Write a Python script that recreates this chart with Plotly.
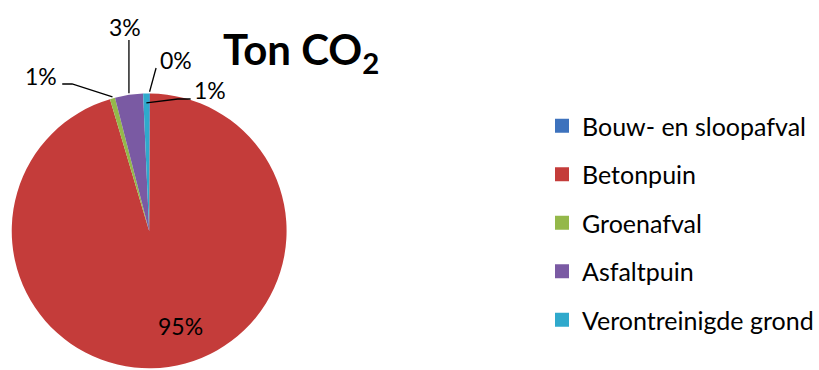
import math
import plotly.graph_objects as go

# ---- data ----
categories = ["Bouw- en sloopafval", "Betonpuin", "Groenafval", "Asfaltpuin", "Verontreinigde grond"]
values = [0.1, 95.3, 0.6, 3.3, 0.7]
colors = ["#3d72bd", "#c43c3a", "#94b84a", "#7a5aa3", "#2fa9cc"]
title_text = "Ton CO<sub>2</sub>"

W, H = 819, 370
FONT = "Lato"

# pie geometry (domain in paper coords)
dom_y = [0.0, 0.752]
R = (dom_y[1] - dom_y[0]) * H / 2
cx_px = 151.0
cy_px = H - R
dom_x = [(cx_px - R) / W, (cx_px + R) / W]

def px2paper(x, y):
    return x / W, 1 - y / H

total = sum(values)
mids = []
acc = 0.0
for v in values:
    mids.append((acc + v / 2) / total * 360.0)
    acc += v

def polar(ang, frac):
    a = math.radians(ang)
    return cx_px + R * frac * math.sin(a), cy_px - R * frac * math.cos(a)

fig = go.Figure()
fig.add_trace(go.Pie(
    labels=categories, values=values, sort=False, direction="clockwise", rotation=0,
    marker=dict(colors=colors, line=dict(width=0)),
    textinfo="none",
    domain=dict(x=dom_x, y=dom_y), showlegend=False, hoverinfo="skip",
))

# legend via dummy traces
for i, (c, col) in enumerate(zip(categories, colors)):
    fig.add_trace(go.Scatter(x=[None], y=[None], mode="markers", name=c,
                             marker=dict(symbol="square", size=14, color=col),
                             legendgroup=f"g{i}", showlegend=True))

# labels with leader lines: (index, label center px, elbow points px, head radius frac)
label_specs = [
    (0, (178, 60), [(158, 68)], 1.0),
    (4, (213, 90), [(193, 99), (180, 99)], 0.92),
    (3, (127, 27), [("hx", 40)], 1.0),
    (2, (42, 76), [(63, 84), (73, 84)], 1.0),
    (1, (183, 326), [], None),
]
annotations = []
shapes = []
for idx, (lx, ly), elbows, frac in label_specs:
    pct = round(values[idx] / total * 100)
    if frac is not None:
        hx, hy = polar(mids[idx], frac)
        pts = []
        for ex, ey in elbows:
            pts.append((hx if ex == "hx" else ex, ey))
        pts.append((hx, hy))
        path = ""
        for j, (x, y) in enumerate(pts):
            px, py = px2paper(x, y)
            path += ("M" if j == 0 else " L") + f" {px:.5f},{py:.5f}"
        shapes.append(dict(type="path", path=path, xref="paper", yref="paper",
                           line=dict(color="black", width=1.3)))
    ax_, ay_ = px2paper(lx, ly)
    annotations.append(dict(x=ax_, y=ay_, xref="paper", yref="paper", text=f"{pct}%",
                            showarrow=False, xanchor="center", yanchor="middle",
                            font=dict(family=FONT, size=23, color="black")))

tx, ty = px2paper(305, 52)
annotations.append(dict(x=tx, y=ty, xref="paper", yref="paper", text=f"<b>{title_text}</b>",
                        showarrow=False, xanchor="center", yanchor="middle",
                        font=dict(family=FONT, size=42, color="black")))

lgx, lgy = px2paper(549, 103)
fig.update_layout(
    width=W, height=H, margin=dict(l=0, r=0, t=0, b=0),
    paper_bgcolor="white", plot_bgcolor="white",
    xaxis=dict(visible=False), yaxis=dict(visible=False),
    legend=dict(x=lgx, y=lgy, xanchor="left", yanchor="top", tracegroupgap=13,
                font=dict(family=FONT, size=25, color="black"), bgcolor="rgba(0,0,0,0)"),
    annotations=annotations, shapes=shapes,
)
fig.write_html("out.html")
